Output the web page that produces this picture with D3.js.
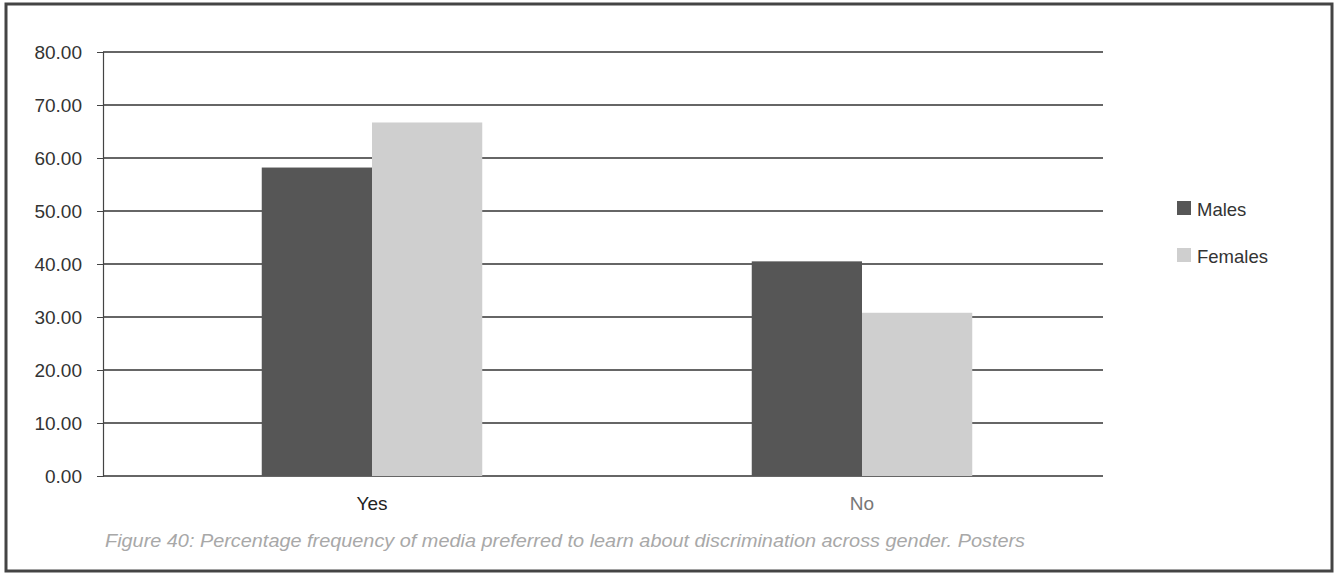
<!DOCTYPE html>
<html>
<head>
<meta charset="utf-8">
<script src="https://cdn.jsdelivr.net/npm/d3@7/dist/d3.min.js"></script>
<style>
  html, body { margin: 0; padding: 0; background: #fff; }
  svg { display: block; font-family: "Liberation Sans", Arial, sans-serif; }
</style>
</head>
<body>
<svg id="chart" width="1338" height="578"></svg>
<script>
const categories = ["Yes", "No"];
const seriesNames = ["Males", "Females"];
const males = [58.2, 40.5];
const females = [66.7, 30.8];
const yTicks = [0, 10, 20, 30, 40, 50, 60, 70, 80];
const caption = "Figure 40: Percentage frequency of media preferred to learn about discrimination across gender. Posters";

const colors = { Males: "#565656", Females: "#cfcfcf" };
const values = { Males: males, Females: females };

const svg = d3.select("#chart");

// outer frame
svg.append("rect")
  .attr("x", 6).attr("y", 4).attr("width", 1326).attr("height", 567)
  .attr("fill", "none").attr("stroke", "#444").attr("stroke-width", 3);

const plotLeft = 103, plotRight = 1103, plotTop = 52, plotBottom = 476;

const y = d3.scaleLinear().domain([0, 80]).range([plotBottom, plotTop]);
const x0 = d3.scaleBand().domain(categories).range([127, 1107])
  .paddingInner(0.55).paddingOuter(0.275);
const x1 = d3.scaleBand().domain(seriesNames).range([0, x0.bandwidth()]);

// gridlines
svg.append("g").selectAll("line").data(yTicks).join("line")
  .attr("x1", plotLeft).attr("x2", plotRight)
  .attr("y1", d => y(d)).attr("y2", d => y(d))
  .attr("stroke", "#333").attr("stroke-width", 1.6);

// y axis
const yAxis = svg.append("g").attr("transform", `translate(${plotLeft},0)`)
  .call(d3.axisLeft(y).tickValues(yTicks).tickFormat(d3.format(".2f")).tickSize(6).tickPadding(15));
yAxis.select(".domain").attr("stroke", "#444").attr("stroke-width", 1.2);
yAxis.selectAll(".tick line").attr("stroke", "#444");
yAxis.selectAll("text").attr("font-size", 19).attr("fill", "#333")
  .attr("font-family", "'Liberation Sans', Arial, sans-serif");

// bars
const groups = svg.append("g").selectAll("g").data(categories).join("g")
  .attr("transform", d => `translate(${x0(d)},0)`);
groups.selectAll("rect")
  .data((c, i) => seriesNames.map(s => ({ s, v: values[s][i] })))
  .join("rect")
  .attr("x", d => x1(d.s))
  .attr("width", x1.bandwidth())
  .attr("y", d => y(d.v))
  .attr("height", d => y(0) - y(d.v))
  .attr("fill", d => colors[d.s]);

// x labels
const xAxis = svg.append("g").attr("transform", `translate(0,${plotBottom})`)
  .call(d3.axisBottom(x0).tickSize(0).tickPadding(21));
xAxis.select(".domain").remove();
xAxis.selectAll("text").attr("font-size", 19)
  .attr("font-family", "'Liberation Sans', Arial, sans-serif")
  .attr("fill", (d, i) => i === 0 ? "#222" : "#777");

// legend
const legend = svg.append("g").selectAll("g").data(seriesNames).join("g")
  .attr("transform", (d, i) => `translate(1177,${201 + i * 47})`);
legend.append("rect").attr("width", 14).attr("height", 14)
  .attr("fill", d => colors[d]);
legend.append("text").attr("x", 20).attr("y", 15)
  .attr("font-size", 18.5).attr("fill", "#333").text(d => d);

// caption
svg.append("text").attr("x", 105).attr("y", 547)
  .attr("font-size", 18).attr("font-style", "italic").attr("fill", "#a8a8a8")
  .attr("textLength", 920).attr("lengthAdjust", "spacingAndGlyphs")
  .text(caption);
</script>
</body>
</html>
